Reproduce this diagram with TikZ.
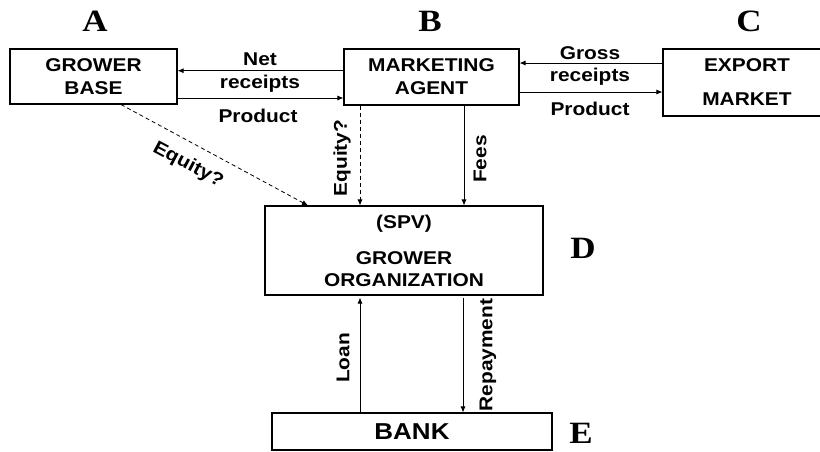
\documentclass[tikz,border=0pt]{standalone}
\usepackage{fontspec}
\setmainfont[FakeStretch=1.13]{Liberation Sans}
\newfontfamily\letterfont[FakeStretch=1.13]{Liberation Serif}
\usetikzlibrary{arrows.meta}

\begin{document}
\begin{tikzpicture}[x=1pt,y=-1pt,
  box/.style={draw, line width=1.1pt, inner sep=0pt, align=center,
    font=\bfseries\fontsize{18.5}{23}\selectfont},
  lbl/.style={inner sep=0pt, font=\bfseries\fontsize{18.5}{23}\selectfont},
  tag/.style={inner sep=0pt, font=\letterfont\bfseries\fontsize{31}{31}\selectfont},
  arr/.style={line width=0.8pt, -{Latex[length=6pt,width=5pt]}},
  dasharr/.style={arr, dash pattern=on 4pt off 3pt}]
\useasboundingbox (0,0) rectangle (820,451);

% parties
\node[box, minimum width=167pt, minimum height=55pt] (grow) at (93.5,76.5) {GROWER\\BASE};
\node[box, minimum width=175pt, minimum height=56pt] (mkt) at (431.5,77) {MARKETING\\AGENT};
\node[box, minimum width=168pt, minimum height=67pt,
      font=\bfseries\fontsize{18.5}{34}\selectfont] (exp) at (747,82.5) {EXPORT\\MARKET};
\node[box, minimum width=278pt, minimum height=89pt,
      font=\bfseries\fontsize{18.5}{22}\selectfont] (spv) at (404,250.5) {(SPV)\\[14pt]GROWER\\ORGANIZATION};
\node[box, minimum width=280pt, minimum height=37pt,
      font=\bfseries\fontsize{23}{23}\selectfont] (bank) at (412,431.5) {BANK};

% letters
\node[tag] (ta) at (95,21) {A};
\node[tag] (tb) at (430,21) {B};
\node[tag] (tc) at (749,21) {C};
\node[tag] (td) at (583,248) {D};
\node[tag] (te) at (581,433) {E};

% A <-> B
\draw[arr] (mkt.west |- 0,70.7) -- (grow.east |- 0,70.7);
\draw[arr] (grow.east |- 0,98) -- (mkt.west |- 0,98);
\node[lbl, anchor=base] (l1) at (260,65) {Net};
\node[lbl, anchor=base] (l2) at (260,88) {receipts};
\node[lbl, anchor=base] (l3) at (258,122) {Product};

% B <-> C
\draw[arr] (exp.west |- 0,63) -- (mkt.east |- 0,63);
\draw[arr] (mkt.east |- 0,92) -- (exp.west |- 0,92);
\node[lbl, anchor=base] (l4) at (590,59.5) {Gross};
\node[lbl, anchor=base] (l5) at (590,81) {receipts};
\node[lbl, anchor=base] (l6) at (590,115) {Product};

% into the SPV
\draw[dasharr] (grow.south -| 121,0) -- (spv.north -| 308,0);
\node[lbl, rotate=-28] (l7) at (188,165) {Equity?};
\draw[dasharr] (mkt.south -| 360,0) -- (spv.north -| 360,0);
\node[lbl, rotate=90] (l8) at (342,158) {Equity?};
\draw[arr] (mkt.south -| 464,0) -- (spv.north -| 464,0);
\node[lbl, rotate=90] (l9) at (480,159) {Fees};

% SPV <-> bank
\draw[arr] (bank.north -| 360,0) -- ([yshift=-2pt]spv.south -| 360,0);
\node[lbl, rotate=90] (l10) at (343,358) {Loan};
\draw[arr] ([yshift=-2pt]spv.south -| 463,0) -- (bank.north -| 463,0);
\node[lbl, rotate=90] (l11) at (488,355) {Repayment};
\end{tikzpicture}
\end{document}
